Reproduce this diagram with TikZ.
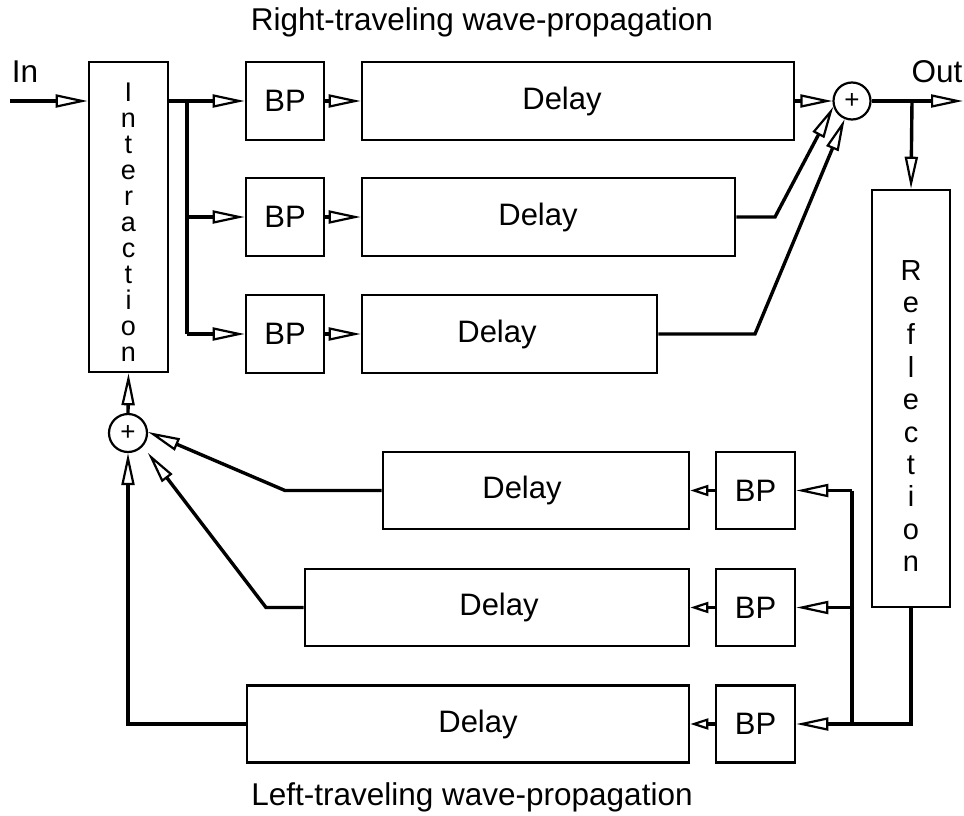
\documentclass[tikz,border=0pt]{standalone}
\usepackage{fontspec}
\setmainfont{Liberation Sans}
\usetikzlibrary{arrows.meta,calc}
\begin{document}
\begin{tikzpicture}[x=1pt,y=-1pt,
  box/.style={draw,line width=2.6pt,inner sep=0pt},
  txt/.style={inner sep=0pt,font=\fontsize{31}{36}\selectfont},
  sumnode/.style={draw,circle,line width=2.2pt,minimum size=37pt,inner sep=0pt,font=\fontsize{26}{28}\selectfont},
  conn/.style={line width=3.4pt},
  arr/.style={conn,-{Triangle[open,length=32pt,width=13pt,line width=2.2pt]}},
  sarr/.style={conn,-{Triangle[open,length=18pt,width=11pt,line width=2.2pt]}},
  lbl/.style={font=\fontsize{31.5}{36}\selectfont,inner sep=0pt,anchor=base},
  vtext/.style={inner sep=0pt,align=center}]
\useasboundingbox (0,0) rectangle (964,816);

% titles
\node[lbl] (ttop) at (482,31) {Right-traveling wave-propagation};
\node[lbl] (tbot) at (472,805) {Left-traveling wave-propagation};
\node[lbl] (tin) at (25,83) {In};
\node[lbl] (tout) at (937,83) {Out};

% interaction
\node[box,minimum width=79pt,minimum height=310pt] (inter) at (128.5,217) {};
\node[vtext,font=\fontsize{27}{26}\selectfont] (intertxt) at (128.5,222) {I\\n\\t\\e\\r\\a\\c\\t\\i\\o\\n};

% right-traveling rows
\node[box,minimum width=78pt,minimum height=78pt] (bp1) at (285,101) {};
\node[txt] (bp1t) at (bp1) {BP};
\node[box,minimum width=432pt,minimum height=78pt] (d1) at (578,101) {};
\node[txt] (d1t) at (562,101) {Delay};
\node[box,minimum width=78pt,minimum height=78pt] (bp2) at (285,217) {};
\node[txt] (bp2t) at (bp2) {BP};
\node[box,minimum width=373pt,minimum height=78pt] (d2) at (548.5,217) {};
\node[txt] (d2t) at (538,217) {Delay};
\node[box,minimum width=78pt,minimum height=78pt] (bp3) at (285,334) {};
\node[txt] (bp3t) at (bp3) {BP};
\node[box,minimum width=295pt,minimum height=78pt] (d3) at (509.5,334) {};
\node[txt] (d3t) at (497,334) {Delay};

\node[sumnode] (sum1) at (852,101) {+};

% reflection
\node[box,minimum width=78pt,minimum height=417pt] (refl) at (911,398.5) {};
\node[vtext,font=\fontsize{29}{32.4}\selectfont] (refltxt) at (911,416) {R\\e\\f\\l\\e\\c\\t\\i\\o\\n};

% left-traveling rows
\node[box,minimum width=306pt,minimum height=77pt] (d4) at (536,490.5) {};
\node[txt] (d4t) at (522,490.5) {Delay};
\node[box,minimum width=79pt,minimum height=77pt] (bp4) at (755.5,490.5) {};
\node[txt] (bp4t) at (bp4) {BP};
\node[box,minimum width=384pt,minimum height=77pt] (d5) at (497,607.5) {};
\node[txt] (d5t) at (499,607.5) {Delay};
\node[box,minimum width=79pt,minimum height=77pt] (bp5) at (755.5,607.5) {};
\node[txt] (bp5t) at (bp5) {BP};
\node[box,minimum width=442pt,minimum height=77pt] (d6) at (468,724) {};
\node[txt] (d6t) at (478,724) {Delay};
\node[box,minimum width=79pt,minimum height=77pt] (bp6) at (755.5,724) {};
\node[txt] (bp6t) at (bp6) {BP};

\node[sumnode,minimum size=38pt] (sum2) at (128,433) {+};

% coordinates
\coordinate (inpt) at (10,101);
\coordinate (outpt) at (963,101);
\coordinate (jtop) at (187,101);
\coordinate (j2) at (187,217);
\coordinate (j3) at (187,334);
\coordinate (c2) at (775,217);
\coordinate (c3) at (755,334);
\coordinate (jo) at (912,101);
\coordinate (jr4) at (852,490.5);
\coordinate (jr5) at (852,607.5);
\coordinate (jr6) at (852,724);
\coordinate (c4) at (285,490.5);
\coordinate (c5) at (266,607.5);

% right-traveling connectors
\draw[arr] (inpt) -- (inpt -| inter.west);
\draw[arr] (inter.east |- bp1.west) -- (bp1.west);
\draw[conn] (jtop) -- (j3);
\draw[arr] (j2) -- (bp2.west);
\draw[arr] (j3) -- (bp3.west);
\draw[arr] (bp1.east) -- (d1.west);
\draw[arr] (bp2.east) -- (d2.west);
\draw[arr] (bp3.east) -- (d3.west);
\draw[arr] (d1.east) -- (sum1.west);
\draw[arr] (d2.east) -- (c2) -- (sum1.197);
\draw[arr] (d3.east) -- (c3) -- (sum1.248);
\draw[arr] (sum1.east) -- (outpt);
\draw[arr] (jo) -- (refl.north);

% left-traveling connectors
\draw[arr] (refl.south) |- (bp6.east);
\draw[conn] (jr4) -- (jr6);
\draw[arr] (jr4) -- (bp4.east);
\draw[arr] (jr5) -- (bp5.east);
\draw[sarr] (bp4.west) -- (d4.east);
\draw[sarr] (bp5.west) -- (d5.east);
\draw[sarr] (bp6.west) -- (d6.east);
\draw[arr] (d4.west) -- (c4) -- (sum2.3);
\draw[arr,shorten >=8pt] (d5.west) -- (c5) -- (sum2.318);
\draw[arr] (d6.west) -| (sum2.south);
\draw[arr] (sum2.north) -- (inter.south);
\end{tikzpicture}
\end{document}
